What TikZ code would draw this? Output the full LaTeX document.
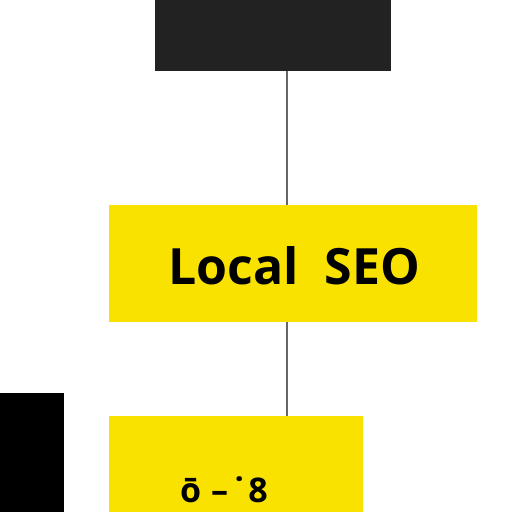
\documentclass[tikz,border=0pt]{standalone}
\usepackage{fontspec}
\newfontfamily\seofont{Open Sans}
\definecolor{seoyellow}{RGB}{250,226,0}
\definecolor{seodark}{RGB}{34,34,34}
\begin{document}
\begin{tikzpicture}[x=1pt,y=-1pt]
\tikzset{ inner sep=0pt, outer sep=0pt,
  box/.style={minimum width=#1, anchor=north west},
  link/.style={gray!80!black, line width=1.4pt} }

\useasboundingbox (0,0) rectangle (512,512);
\clip (0,0) rectangle (512,512);

%\draw [lightgray, dashed](0,0) grid [step=50] (512,512);

\node [fill=seodark, box=236pt, minimum height=71pt] (top) at (155,0) {};
\node [fill=seoyellow, box=368pt, minimum height=117pt] (seo) at (109,205) {};
\node [fill=seoyellow, box=254pt, minimum height=130pt] (sub) at (109,416) {};
\node [fill=black, box=64pt, minimum height=130pt] (side) at (0,393) {};

\node [font=\seofont\bfseries\fontsize{50}{50}\selectfont, anchor=base] (title) at (294,284) {Local\ \ SEO};
\node [font=\seofont\bfseries\fontsize{34}{34}\selectfont, anchor=base west] (subtxt) at (180,502) {ō\hspace{10pt}–\hspace{6pt}˙\hspace{4pt}8};

\coordinate (c) at (287,0);
\draw [link] (top.south -| c) -- (seo.north -| c);
\draw [link] (seo.south -| c) -- (sub.north -| c);

\end{tikzpicture}
\end{document}
